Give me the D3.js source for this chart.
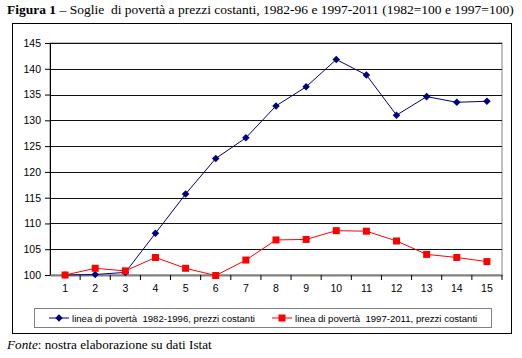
<!DOCTYPE html>
<html><head><meta charset="utf-8">
<script src="https://cdn.jsdelivr.net/npm/d3@7"></script>
<style>body{margin:0;background:#fff}svg{display:block}text{white-space:pre}</style>
</head><body>
<svg id="c" width="522" height="358"></svg>
<script>
const categories = [1,2,3,4,5,6,7,8,9,10,11,12,13,14,15];
const serie1982 = [100,100.1,100.5,108.1,115.7,122.6,126.6,132.8,136.5,141.8,138.8,131.0,134.6,133.5,133.7];
const serie1997 = [100,101.3,100.8,103.4,101.3,99.9,102.9,106.8,106.9,108.6,108.5,106.6,104.0,103.4,102.6];
const yTicks = [100,105,110,115,120,125,130,135,140,145];
const seriesNames = ["linea di povertà  1982-1996, prezzi costanti","linea di povertà  1997-2011, prezzi costanti"];

const svg = d3.select("#c");
const L=50,R=502,T=43,B=275;
const x = d3.scaleBand().domain(categories).range([L,R]);
const y = d3.scaleLinear().domain([100,145]).range([B,T]);

// title
const t = svg.append("text").attr("x",7).attr("y",14).attr("font-family","Liberation Serif").attr("font-size",13.5);
t.append("tspan").attr("font-weight","bold").text("Figura 1");
t.append("tspan").text(" – Soglie  di povertà a prezzi costanti, 1982-96 e 1997-2011 (1982=100 e 1997=100)");

// outer border
svg.append("rect").attr("x",12.5).attr("y",23.5).attr("width",499).attr("height",310).attr("fill","none").attr("stroke","#000").attr("stroke-width",1);

// plot border
svg.append("rect").attr("x",L).attr("y",T).attr("width",R-L).attr("height",B-T).attr("fill","none").attr("stroke","#808080").attr("stroke-width",1);

// gridlines
svg.append("g").selectAll("line").data(yTicks.filter(d=>d>100)).join("line")
  .attr("x1",L).attr("x2",R).attr("y1",d=>Math.round(y(d))+0.5).attr("y2",d=>Math.round(y(d))+0.5)
  .attr("stroke","#111").attr("stroke-width",1);

// y axis
const ya = svg.append("g").attr("transform",`translate(${L},0)`).call(d3.axisLeft(y).tickValues(yTicks).tickSize(5).tickPadding(4));
ya.select(".domain").attr("stroke","#000");
ya.selectAll("text").attr("font-family","Liberation Sans").attr("font-size",10.5).attr("fill","#000");

// x axis
const xa = svg.append("g").attr("transform",`translate(0,${B})`).call(d3.axisBottom(x).tickSize(0).tickPadding(10));
xa.select(".domain").attr("stroke","#808080").attr("stroke-width",2);
xa.selectAll("text").attr("font-family","Liberation Sans").attr("font-size",10.5).attr("fill","#000");
svg.append("g").selectAll("line").data(categories).join("line")
  .attr("x1",(d,i)=>L+x.bandwidth()*(i+1)).attr("x2",(d,i)=>L+x.bandwidth()*(i+1))
  .attr("y1",B).attr("y2",B+5).attr("stroke","#000");

const cx = d=>x(d)+x.bandwidth()/2;
const line = d3.line().x((d,i)=>cx(categories[i])).y(d=>y(d));

// series
svg.append("path").datum(serie1982).attr("d",line).attr("fill","none").attr("stroke","#000080").attr("stroke-width",1);
svg.append("path").datum(serie1997).attr("d",line).attr("fill","none").attr("stroke","#ff0000").attr("stroke-width",1);
const diamond = d3.symbol().type(d3.symbolDiamond2).size(36);
svg.append("g").selectAll("path").data(serie1982).join("path")
  .attr("d",diamond).attr("transform",(d,i)=>`translate(${cx(categories[i])},${y(d)})`).attr("fill","#000080");
svg.append("g").selectAll("rect").data(serie1997).join("rect")
  .attr("x",(d,i)=>cx(categories[i])-3.5).attr("y",d=>y(d)-3.5).attr("width",7).attr("height",7).attr("fill","#ff0000");

// legend
svg.append("rect").attr("x",34.5).attr("y",308.5).attr("width",457).attr("height",19).attr("fill","#fff").attr("stroke","#808080");
const lg = [{x0:49,tx:72,c:"#000080",s:"d"},{x0:272,tx:295,c:"#ff0000",s:"s"}];
lg.forEach((g,i)=>{
  const ly=318;
  svg.append("line").attr("x1",g.x0).attr("x2",g.x0+20).attr("y1",ly).attr("y2",ly).attr("stroke",g.c);
  if(g.s==="d") svg.append("path").attr("d",diamond).attr("transform",`translate(${g.x0+10},${ly})`).attr("fill",g.c);
  else svg.append("rect").attr("x",g.x0+6.5).attr("y",ly-3.5).attr("width",7).attr("height",7).attr("fill",g.c);
  svg.append("text").attr("x",g.tx).attr("y",ly+3.5).attr("font-family","Liberation Sans").attr("font-size",9.6).text(seriesNames[i]);
});

// footnote
const f = svg.append("text").attr("x",7).attr("y",349).attr("font-family","Liberation Serif").attr("font-size",13.2);
f.append("tspan").attr("font-style","italic").text("Fonte");
f.append("tspan").text(": nostra elaborazione su dati Istat");
</script>
</body></html>
